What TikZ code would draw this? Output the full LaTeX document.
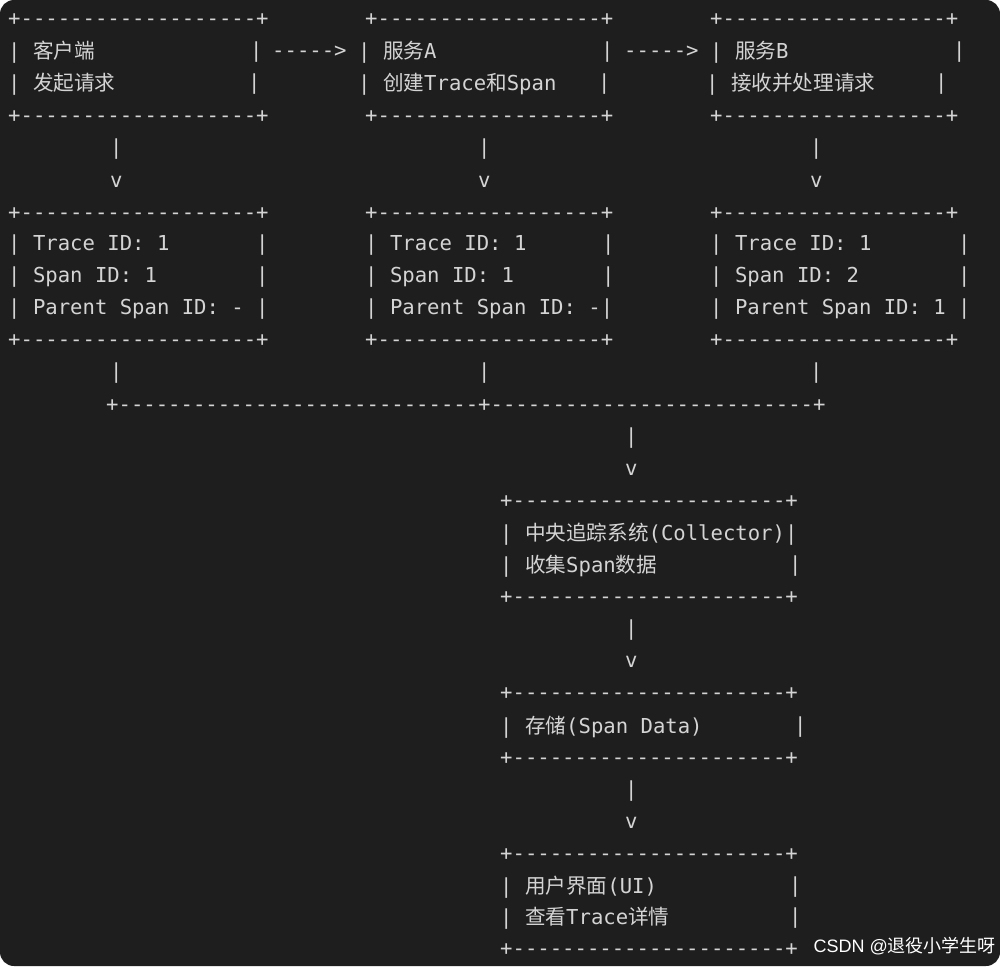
\documentclass[tikz,border=0pt]{standalone}
\usepackage{fontspec}
\setmonofont{DejaVu Sans Mono}
\newfontfamily\cjk{Noto Sans CJK SC}
\newfontfamily\wmfont{Liberation Sans}
\definecolor{bg}{HTML}{1E1E1E}
\definecolor{fg}{HTML}{D4D4D4}
\newcount\nc
\newcommand\txt[3]{\global\advance\nc by 1 \node[t] (n\the\nc) at (#1,#2) {#3};}
\newcommand\C[1]{{\cjk #1}}
\begin{document}
\begin{tikzpicture}[x=1pt,y=-1pt,t/.style={anchor=west,inner sep=0pt,text=fg,font=\ttfamily\fontsize{20.6}{20.6}\selectfont}]
\fill[bg,rounded corners=14pt] (0,0) rectangle (1000,966);
\useasboundingbox (0,0) rectangle (1000,966);
\def\bA{+-------------------+}
\def\bB{+------------------+}
\def\bC{+----------------------+}
% top row boxes
\foreach \y in {20,117,214,341}{\txt{8}{\y}{\bA}\txt{365}{\y}{\bB}\txt{710}{\y}{\bB}}
\txt{8}{52}{| \C{客户端}}\txt{250}{52}{|}\txt{272}{52}{----->}
\txt{358}{52}{| \C{服务}A}\txt{601}{52}{|}\txt{624}{52}{----->}
\txt{710}{52}{| \C{服务}B}\txt{953}{52}{|}
\txt{8}{84}{| \C{发起请求}}\txt{248}{84}{|}
\txt{358}{84}{| \C{创建}Trace\C{和}Span}\txt{598}{84}{|}
\txt{706}{84}{| \C{接收并处理请求}}\txt{935}{84}{|}
\foreach \y/\s in {149/|,182/v,373/|}{\txt{110}{\y}{\s}\txt{478}{\y}{\s}\txt{810}{\y}{\s}}
\txt{8}{245}{| Trace ID: 1}\txt{256}{245}{|}
\txt{365}{245}{| Trace ID: 1}\txt{602}{245}{|}
\txt{710}{245}{| Trace ID: 1}\txt{958}{245}{|}
\txt{8}{277}{| Span ID: 1}\txt{256}{277}{|}
\txt{365}{277}{| Span ID: 1}\txt{602}{277}{|}
\txt{710}{277}{| Span ID: 2}\txt{958}{277}{|}
\txt{8}{309}{| Parent Span ID: - |}
\txt{365}{309}{| Parent Span ID: -|}
\txt{710}{309}{| Parent Span ID: 1 |}
\txt{106}{406}{+-----------------------------+--------------------------+}
\foreach \y/\s in {438/|,470/v,630/|,662/v,791/|,823/v}{\txt{625}{\y}{\s}}
\foreach \y in {502,598,694,759,855,950}{\txt{500}{\y}{\bC}}
\txt{500}{534}{| \C{中央追踪系统}(Collector)|}
\txt{500}{566}{| \C{收集}Span\C{数据}}\txt{789}{566}{|}
\txt{500}{727}{| \C{存储}(Span Data)}\txt{794}{727}{|}
\txt{500}{887}{| \C{用户界面}(UI)}\txt{789}{887}{|}
\txt{500}{918}{| \C{查看}Trace\C{详情}}\txt{789}{918}{|}
\node[anchor=east,inner sep=0pt,text=white,font=\fontsize{18}{18}\selectfont] (wm) at (996,946) {\wmfont CSDN @\C{退役小学生呀}};
\end{tikzpicture}
\end{document}
